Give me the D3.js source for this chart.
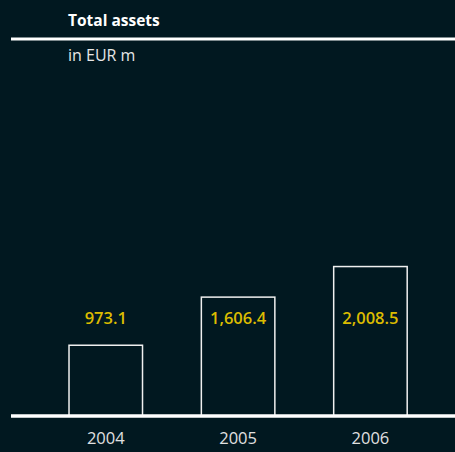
<!DOCTYPE html>
<html>
<head>
<meta charset="utf-8">
<script src="https://cdn.jsdelivr.net/npm/d3@7"></script>
<style>
html,body{margin:0;padding:0;background:#011820;}
svg{display:block;}
</style>
</head>
<body>
<script>
const categories = ["2004", "2005", "2006"];
const values = [973.1, 1606.4, 2008.5];
const valueLabels = ["973.1", "1,606.4", "2,008.5"];
const title = "Total assets";
const unit = "in EUR m";

const W = 455, H = 452;
const bg = "#011820";
const svg = d3.select("body").append("svg").attr("width", W).attr("height", H);
svg.append("rect").attr("width", W).attr("height", H).attr("fill", bg);

const font = "'Open Sans', sans-serif";
const baseY = 416;

const x = d3.scaleBand().domain(categories).range([39.6, 436.6]).paddingInner(0.437).paddingOuter(0.2185);
const y = d3.scaleLinear().domain([0, 2500]).range([418.7, 228.7]);

// title
svg.append("text").attr("x", 68).attr("y", 26).text(title)
  .attr("font-family", font).attr("font-weight", 700).attr("font-size", 15.5)
  .attr("fill", "#ffffff");
svg.append("line").attr("x1", 11).attr("x2", W).attr("y1", 39).attr("y2", 39)
  .attr("stroke", "#ffffff").attr("stroke-width", 3);
svg.append("text").attr("x", 68).attr("y", 61).text(unit)
  .attr("font-family", font).attr("font-size", 16).attr("fill", "#e6e6e6");

// bars
svg.selectAll("rect.bar").data(values).enter().append("rect").attr("class", "bar")
  .attr("x", (d, i) => x(categories[i]) + 0.5)
  .attr("y", d => y(d) + 0.5)
  .attr("width", x.bandwidth() - 1)
  .attr("height", d => baseY - y(d) - 0.5)
  .attr("fill", "none").attr("stroke", "#f0f0f0").attr("stroke-width", 1.5);

// value labels
svg.selectAll("text.val").data(valueLabels).enter().append("text").attr("class", "val")
  .attr("x", (d, i) => x(categories[i]) + x.bandwidth() / 2)
  .attr("y", 324)
  .attr("text-anchor", "middle")
  .attr("font-family", font).attr("font-weight", 600).attr("font-size", 16.5)
  .attr("fill", "#dcbc00")
  .text(d => d);

// baseline
svg.append("line").attr("x1", 11).attr("x2", W).attr("y1", baseY).attr("y2", baseY)
  .attr("stroke", "#ffffff").attr("stroke-width", 3.4);

// axis
const axis = d3.axisBottom(x).tickSize(0).tickPadding(0);
const g = svg.append("g").attr("transform", "translate(0,444)").call(axis);
g.select(".domain").remove();
g.selectAll("text").attr("dy", 0).attr("font-family", font).attr("font-size", 16.5)
  .attr("fill", "#e0e0e0");
</script>
</body>
</html>
